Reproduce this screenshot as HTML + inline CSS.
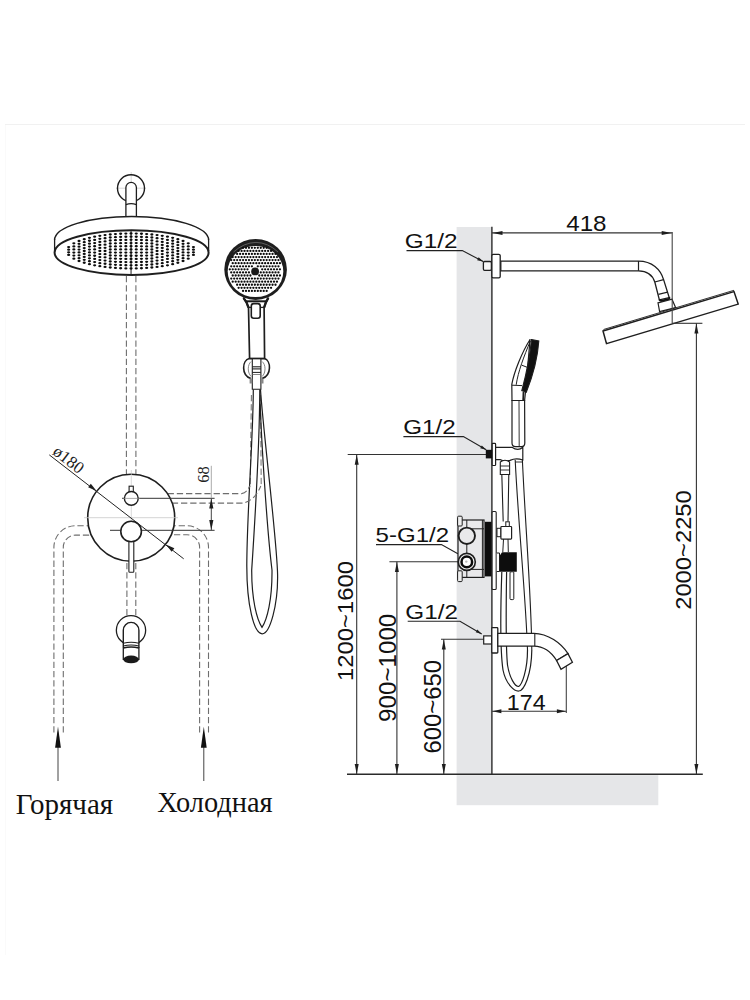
<!DOCTYPE html>
<html><head><meta charset="utf-8"><style>
html,body{margin:0;padding:0;background:#fff;}
body{width:750px;height:1000px;overflow:hidden;font-family:"Liberation Sans",sans-serif;}
svg{display:block;}
</style></head><body>
<svg width="750" height="1000" viewBox="0 0 750 1000">
<line x1="5.00" y1="124.50" x2="745.00" y2="124.50" stroke="#f1f1f1" stroke-width="1.2" />
<line x1="5.50" y1="125.00" x2="5.50" y2="955.00" stroke="#fafafa" stroke-width="1" />
<line x1="131.20" y1="172.00" x2="131.20" y2="215.00" stroke="#c8c8c8" stroke-width="0.7" />
<line x1="116.00" y1="188.20" x2="146.00" y2="188.20" stroke="#c8c8c8" stroke-width="0.7" />
<circle cx="131" cy="188.2" r="13.5" stroke="#1e1e1e" stroke-width="1.4" fill="none"/>
<path d="M125.9,217 L125.9,187.6 A5.25,5.25 0 0 1 136.4,187.6 L136.4,217" stroke="#1e1e1e" stroke-width="1.3" fill="#fff" />
<path d="M125.9,204.6 Q131.15,202.6 136.4,204.6" stroke="#1e1e1e" stroke-width="1.2" fill="none" />
<path d="M54.6,240 A77,23.5 0 0 1 208.6,240" stroke="#1e1e1e" stroke-width="1.5" fill="#fff" />
<line x1="54.60" y1="239.50" x2="54.60" y2="253.00" stroke="#1e1e1e" stroke-width="1.3" />
<line x1="208.60" y1="239.50" x2="208.60" y2="251.00" stroke="#1e1e1e" stroke-width="1.3" />
<ellipse cx="131.6" cy="252.6" rx="77" ry="22.3" stroke="#1e1e1e" stroke-width="2" fill="#fff"/>
<ellipse cx="68.65" cy="247.08" rx="1.6" ry="1.15" fill="#0c0c0c"/>
<ellipse cx="68.65" cy="249.69" rx="1.6" ry="1.15" fill="#0c0c0c"/>
<ellipse cx="68.65" cy="252.31" rx="1.6" ry="1.15" fill="#0c0c0c"/>
<ellipse cx="68.65" cy="254.92" rx="1.6" ry="1.15" fill="#0c0c0c"/>
<ellipse cx="73.85" cy="243.36" rx="1.6" ry="1.15" fill="#0c0c0c"/>
<ellipse cx="73.85" cy="246.42" rx="1.6" ry="1.15" fill="#0c0c0c"/>
<ellipse cx="73.85" cy="249.47" rx="1.6" ry="1.15" fill="#0c0c0c"/>
<ellipse cx="73.85" cy="252.53" rx="1.6" ry="1.15" fill="#0c0c0c"/>
<ellipse cx="73.85" cy="255.58" rx="1.6" ry="1.15" fill="#0c0c0c"/>
<ellipse cx="73.85" cy="258.64" rx="1.6" ry="1.15" fill="#0c0c0c"/>
<ellipse cx="79.05" cy="241.00" rx="1.6" ry="1.15" fill="#0c0c0c"/>
<ellipse cx="79.05" cy="243.86" rx="1.6" ry="1.15" fill="#0c0c0c"/>
<ellipse cx="79.05" cy="246.71" rx="1.6" ry="1.15" fill="#0c0c0c"/>
<ellipse cx="79.05" cy="249.57" rx="1.6" ry="1.15" fill="#0c0c0c"/>
<ellipse cx="79.05" cy="252.43" rx="1.6" ry="1.15" fill="#0c0c0c"/>
<ellipse cx="79.05" cy="255.29" rx="1.6" ry="1.15" fill="#0c0c0c"/>
<ellipse cx="79.05" cy="258.14" rx="1.6" ry="1.15" fill="#0c0c0c"/>
<ellipse cx="79.05" cy="261.00" rx="1.6" ry="1.15" fill="#0c0c0c"/>
<ellipse cx="84.25" cy="239.24" rx="1.6" ry="1.15" fill="#0c0c0c"/>
<ellipse cx="84.25" cy="242.18" rx="1.6" ry="1.15" fill="#0c0c0c"/>
<ellipse cx="84.25" cy="245.12" rx="1.6" ry="1.15" fill="#0c0c0c"/>
<ellipse cx="84.25" cy="248.06" rx="1.6" ry="1.15" fill="#0c0c0c"/>
<ellipse cx="84.25" cy="251.00" rx="1.6" ry="1.15" fill="#0c0c0c"/>
<ellipse cx="84.25" cy="253.94" rx="1.6" ry="1.15" fill="#0c0c0c"/>
<ellipse cx="84.25" cy="256.88" rx="1.6" ry="1.15" fill="#0c0c0c"/>
<ellipse cx="84.25" cy="259.82" rx="1.6" ry="1.15" fill="#0c0c0c"/>
<ellipse cx="84.25" cy="262.76" rx="1.6" ry="1.15" fill="#0c0c0c"/>
<ellipse cx="89.45" cy="237.84" rx="1.6" ry="1.15" fill="#0c0c0c"/>
<ellipse cx="89.45" cy="240.76" rx="1.6" ry="1.15" fill="#0c0c0c"/>
<ellipse cx="89.45" cy="243.69" rx="1.6" ry="1.15" fill="#0c0c0c"/>
<ellipse cx="89.45" cy="246.61" rx="1.6" ry="1.15" fill="#0c0c0c"/>
<ellipse cx="89.45" cy="249.54" rx="1.6" ry="1.15" fill="#0c0c0c"/>
<ellipse cx="89.45" cy="252.46" rx="1.6" ry="1.15" fill="#0c0c0c"/>
<ellipse cx="89.45" cy="255.39" rx="1.6" ry="1.15" fill="#0c0c0c"/>
<ellipse cx="89.45" cy="258.31" rx="1.6" ry="1.15" fill="#0c0c0c"/>
<ellipse cx="89.45" cy="261.24" rx="1.6" ry="1.15" fill="#0c0c0c"/>
<ellipse cx="89.45" cy="264.16" rx="1.6" ry="1.15" fill="#0c0c0c"/>
<ellipse cx="94.65" cy="236.71" rx="1.6" ry="1.15" fill="#0c0c0c"/>
<ellipse cx="94.65" cy="239.89" rx="1.6" ry="1.15" fill="#0c0c0c"/>
<ellipse cx="94.65" cy="243.06" rx="1.6" ry="1.15" fill="#0c0c0c"/>
<ellipse cx="94.65" cy="246.24" rx="1.6" ry="1.15" fill="#0c0c0c"/>
<ellipse cx="94.65" cy="249.41" rx="1.6" ry="1.15" fill="#0c0c0c"/>
<ellipse cx="94.65" cy="252.59" rx="1.6" ry="1.15" fill="#0c0c0c"/>
<ellipse cx="94.65" cy="255.76" rx="1.6" ry="1.15" fill="#0c0c0c"/>
<ellipse cx="94.65" cy="258.94" rx="1.6" ry="1.15" fill="#0c0c0c"/>
<ellipse cx="94.65" cy="262.11" rx="1.6" ry="1.15" fill="#0c0c0c"/>
<ellipse cx="94.65" cy="265.29" rx="1.6" ry="1.15" fill="#0c0c0c"/>
<ellipse cx="99.85" cy="235.80" rx="1.6" ry="1.15" fill="#0c0c0c"/>
<ellipse cx="99.85" cy="238.84" rx="1.6" ry="1.15" fill="#0c0c0c"/>
<ellipse cx="99.85" cy="241.88" rx="1.6" ry="1.15" fill="#0c0c0c"/>
<ellipse cx="99.85" cy="244.92" rx="1.6" ry="1.15" fill="#0c0c0c"/>
<ellipse cx="99.85" cy="247.96" rx="1.6" ry="1.15" fill="#0c0c0c"/>
<ellipse cx="99.85" cy="251.00" rx="1.6" ry="1.15" fill="#0c0c0c"/>
<ellipse cx="99.85" cy="254.04" rx="1.6" ry="1.15" fill="#0c0c0c"/>
<ellipse cx="99.85" cy="257.08" rx="1.6" ry="1.15" fill="#0c0c0c"/>
<ellipse cx="99.85" cy="260.12" rx="1.6" ry="1.15" fill="#0c0c0c"/>
<ellipse cx="99.85" cy="263.16" rx="1.6" ry="1.15" fill="#0c0c0c"/>
<ellipse cx="99.85" cy="266.20" rx="1.6" ry="1.15" fill="#0c0c0c"/>
<ellipse cx="105.05" cy="235.06" rx="1.6" ry="1.15" fill="#0c0c0c"/>
<ellipse cx="105.05" cy="238.25" rx="1.6" ry="1.15" fill="#0c0c0c"/>
<ellipse cx="105.05" cy="241.44" rx="1.6" ry="1.15" fill="#0c0c0c"/>
<ellipse cx="105.05" cy="244.63" rx="1.6" ry="1.15" fill="#0c0c0c"/>
<ellipse cx="105.05" cy="247.81" rx="1.6" ry="1.15" fill="#0c0c0c"/>
<ellipse cx="105.05" cy="251.00" rx="1.6" ry="1.15" fill="#0c0c0c"/>
<ellipse cx="105.05" cy="254.19" rx="1.6" ry="1.15" fill="#0c0c0c"/>
<ellipse cx="105.05" cy="257.37" rx="1.6" ry="1.15" fill="#0c0c0c"/>
<ellipse cx="105.05" cy="260.56" rx="1.6" ry="1.15" fill="#0c0c0c"/>
<ellipse cx="105.05" cy="263.75" rx="1.6" ry="1.15" fill="#0c0c0c"/>
<ellipse cx="105.05" cy="266.94" rx="1.6" ry="1.15" fill="#0c0c0c"/>
<ellipse cx="110.25" cy="234.48" rx="1.6" ry="1.15" fill="#0c0c0c"/>
<ellipse cx="110.25" cy="237.49" rx="1.6" ry="1.15" fill="#0c0c0c"/>
<ellipse cx="110.25" cy="240.49" rx="1.6" ry="1.15" fill="#0c0c0c"/>
<ellipse cx="110.25" cy="243.49" rx="1.6" ry="1.15" fill="#0c0c0c"/>
<ellipse cx="110.25" cy="246.50" rx="1.6" ry="1.15" fill="#0c0c0c"/>
<ellipse cx="110.25" cy="249.50" rx="1.6" ry="1.15" fill="#0c0c0c"/>
<ellipse cx="110.25" cy="252.50" rx="1.6" ry="1.15" fill="#0c0c0c"/>
<ellipse cx="110.25" cy="255.50" rx="1.6" ry="1.15" fill="#0c0c0c"/>
<ellipse cx="110.25" cy="258.51" rx="1.6" ry="1.15" fill="#0c0c0c"/>
<ellipse cx="110.25" cy="261.51" rx="1.6" ry="1.15" fill="#0c0c0c"/>
<ellipse cx="110.25" cy="264.51" rx="1.6" ry="1.15" fill="#0c0c0c"/>
<ellipse cx="110.25" cy="267.52" rx="1.6" ry="1.15" fill="#0c0c0c"/>
<ellipse cx="115.45" cy="234.05" rx="1.6" ry="1.15" fill="#0c0c0c"/>
<ellipse cx="115.45" cy="237.13" rx="1.6" ry="1.15" fill="#0c0c0c"/>
<ellipse cx="115.45" cy="240.21" rx="1.6" ry="1.15" fill="#0c0c0c"/>
<ellipse cx="115.45" cy="243.29" rx="1.6" ry="1.15" fill="#0c0c0c"/>
<ellipse cx="115.45" cy="246.38" rx="1.6" ry="1.15" fill="#0c0c0c"/>
<ellipse cx="115.45" cy="249.46" rx="1.6" ry="1.15" fill="#0c0c0c"/>
<ellipse cx="115.45" cy="252.54" rx="1.6" ry="1.15" fill="#0c0c0c"/>
<ellipse cx="115.45" cy="255.62" rx="1.6" ry="1.15" fill="#0c0c0c"/>
<ellipse cx="115.45" cy="258.71" rx="1.6" ry="1.15" fill="#0c0c0c"/>
<ellipse cx="115.45" cy="261.79" rx="1.6" ry="1.15" fill="#0c0c0c"/>
<ellipse cx="115.45" cy="264.87" rx="1.6" ry="1.15" fill="#0c0c0c"/>
<ellipse cx="115.45" cy="267.95" rx="1.6" ry="1.15" fill="#0c0c0c"/>
<ellipse cx="120.65" cy="233.74" rx="1.6" ry="1.15" fill="#0c0c0c"/>
<ellipse cx="120.65" cy="236.88" rx="1.6" ry="1.15" fill="#0c0c0c"/>
<ellipse cx="120.65" cy="240.02" rx="1.6" ry="1.15" fill="#0c0c0c"/>
<ellipse cx="120.65" cy="243.16" rx="1.6" ry="1.15" fill="#0c0c0c"/>
<ellipse cx="120.65" cy="246.29" rx="1.6" ry="1.15" fill="#0c0c0c"/>
<ellipse cx="120.65" cy="249.43" rx="1.6" ry="1.15" fill="#0c0c0c"/>
<ellipse cx="120.65" cy="252.57" rx="1.6" ry="1.15" fill="#0c0c0c"/>
<ellipse cx="120.65" cy="255.71" rx="1.6" ry="1.15" fill="#0c0c0c"/>
<ellipse cx="120.65" cy="258.84" rx="1.6" ry="1.15" fill="#0c0c0c"/>
<ellipse cx="120.65" cy="261.98" rx="1.6" ry="1.15" fill="#0c0c0c"/>
<ellipse cx="120.65" cy="265.12" rx="1.6" ry="1.15" fill="#0c0c0c"/>
<ellipse cx="120.65" cy="268.26" rx="1.6" ry="1.15" fill="#0c0c0c"/>
<ellipse cx="125.85" cy="233.56" rx="1.6" ry="1.15" fill="#0c0c0c"/>
<ellipse cx="125.85" cy="236.73" rx="1.6" ry="1.15" fill="#0c0c0c"/>
<ellipse cx="125.85" cy="239.90" rx="1.6" ry="1.15" fill="#0c0c0c"/>
<ellipse cx="125.85" cy="243.07" rx="1.6" ry="1.15" fill="#0c0c0c"/>
<ellipse cx="125.85" cy="246.24" rx="1.6" ry="1.15" fill="#0c0c0c"/>
<ellipse cx="125.85" cy="249.41" rx="1.6" ry="1.15" fill="#0c0c0c"/>
<ellipse cx="125.85" cy="252.59" rx="1.6" ry="1.15" fill="#0c0c0c"/>
<ellipse cx="125.85" cy="255.76" rx="1.6" ry="1.15" fill="#0c0c0c"/>
<ellipse cx="125.85" cy="258.93" rx="1.6" ry="1.15" fill="#0c0c0c"/>
<ellipse cx="125.85" cy="262.10" rx="1.6" ry="1.15" fill="#0c0c0c"/>
<ellipse cx="125.85" cy="265.27" rx="1.6" ry="1.15" fill="#0c0c0c"/>
<ellipse cx="125.85" cy="268.44" rx="1.6" ry="1.15" fill="#0c0c0c"/>
<line x1="131.05" y1="230.90" x2="131.05" y2="274.60" stroke="#1e1e1e" stroke-width="1.0" />
<ellipse cx="131.05" cy="233.50" rx="1.6" ry="1.15" fill="#0c0c0c"/>
<ellipse cx="131.05" cy="236.68" rx="1.6" ry="1.15" fill="#0c0c0c"/>
<ellipse cx="131.05" cy="239.86" rx="1.6" ry="1.15" fill="#0c0c0c"/>
<ellipse cx="131.05" cy="243.05" rx="1.6" ry="1.15" fill="#0c0c0c"/>
<ellipse cx="131.05" cy="246.23" rx="1.6" ry="1.15" fill="#0c0c0c"/>
<ellipse cx="131.05" cy="249.41" rx="1.6" ry="1.15" fill="#0c0c0c"/>
<ellipse cx="131.05" cy="252.59" rx="1.6" ry="1.15" fill="#0c0c0c"/>
<ellipse cx="131.05" cy="255.77" rx="1.6" ry="1.15" fill="#0c0c0c"/>
<ellipse cx="131.05" cy="258.95" rx="1.6" ry="1.15" fill="#0c0c0c"/>
<ellipse cx="131.05" cy="262.14" rx="1.6" ry="1.15" fill="#0c0c0c"/>
<ellipse cx="131.05" cy="265.32" rx="1.6" ry="1.15" fill="#0c0c0c"/>
<ellipse cx="131.05" cy="268.50" rx="1.6" ry="1.15" fill="#0c0c0c"/>
<ellipse cx="136.25" cy="233.56" rx="1.6" ry="1.15" fill="#0c0c0c"/>
<ellipse cx="136.25" cy="236.73" rx="1.6" ry="1.15" fill="#0c0c0c"/>
<ellipse cx="136.25" cy="239.90" rx="1.6" ry="1.15" fill="#0c0c0c"/>
<ellipse cx="136.25" cy="243.07" rx="1.6" ry="1.15" fill="#0c0c0c"/>
<ellipse cx="136.25" cy="246.24" rx="1.6" ry="1.15" fill="#0c0c0c"/>
<ellipse cx="136.25" cy="249.41" rx="1.6" ry="1.15" fill="#0c0c0c"/>
<ellipse cx="136.25" cy="252.59" rx="1.6" ry="1.15" fill="#0c0c0c"/>
<ellipse cx="136.25" cy="255.76" rx="1.6" ry="1.15" fill="#0c0c0c"/>
<ellipse cx="136.25" cy="258.93" rx="1.6" ry="1.15" fill="#0c0c0c"/>
<ellipse cx="136.25" cy="262.10" rx="1.6" ry="1.15" fill="#0c0c0c"/>
<ellipse cx="136.25" cy="265.27" rx="1.6" ry="1.15" fill="#0c0c0c"/>
<ellipse cx="136.25" cy="268.44" rx="1.6" ry="1.15" fill="#0c0c0c"/>
<ellipse cx="141.45" cy="233.74" rx="1.6" ry="1.15" fill="#0c0c0c"/>
<ellipse cx="141.45" cy="236.88" rx="1.6" ry="1.15" fill="#0c0c0c"/>
<ellipse cx="141.45" cy="240.02" rx="1.6" ry="1.15" fill="#0c0c0c"/>
<ellipse cx="141.45" cy="243.16" rx="1.6" ry="1.15" fill="#0c0c0c"/>
<ellipse cx="141.45" cy="246.29" rx="1.6" ry="1.15" fill="#0c0c0c"/>
<ellipse cx="141.45" cy="249.43" rx="1.6" ry="1.15" fill="#0c0c0c"/>
<ellipse cx="141.45" cy="252.57" rx="1.6" ry="1.15" fill="#0c0c0c"/>
<ellipse cx="141.45" cy="255.71" rx="1.6" ry="1.15" fill="#0c0c0c"/>
<ellipse cx="141.45" cy="258.84" rx="1.6" ry="1.15" fill="#0c0c0c"/>
<ellipse cx="141.45" cy="261.98" rx="1.6" ry="1.15" fill="#0c0c0c"/>
<ellipse cx="141.45" cy="265.12" rx="1.6" ry="1.15" fill="#0c0c0c"/>
<ellipse cx="141.45" cy="268.26" rx="1.6" ry="1.15" fill="#0c0c0c"/>
<ellipse cx="146.65" cy="234.05" rx="1.6" ry="1.15" fill="#0c0c0c"/>
<ellipse cx="146.65" cy="237.13" rx="1.6" ry="1.15" fill="#0c0c0c"/>
<ellipse cx="146.65" cy="240.21" rx="1.6" ry="1.15" fill="#0c0c0c"/>
<ellipse cx="146.65" cy="243.29" rx="1.6" ry="1.15" fill="#0c0c0c"/>
<ellipse cx="146.65" cy="246.38" rx="1.6" ry="1.15" fill="#0c0c0c"/>
<ellipse cx="146.65" cy="249.46" rx="1.6" ry="1.15" fill="#0c0c0c"/>
<ellipse cx="146.65" cy="252.54" rx="1.6" ry="1.15" fill="#0c0c0c"/>
<ellipse cx="146.65" cy="255.62" rx="1.6" ry="1.15" fill="#0c0c0c"/>
<ellipse cx="146.65" cy="258.71" rx="1.6" ry="1.15" fill="#0c0c0c"/>
<ellipse cx="146.65" cy="261.79" rx="1.6" ry="1.15" fill="#0c0c0c"/>
<ellipse cx="146.65" cy="264.87" rx="1.6" ry="1.15" fill="#0c0c0c"/>
<ellipse cx="146.65" cy="267.95" rx="1.6" ry="1.15" fill="#0c0c0c"/>
<ellipse cx="151.85" cy="234.48" rx="1.6" ry="1.15" fill="#0c0c0c"/>
<ellipse cx="151.85" cy="237.49" rx="1.6" ry="1.15" fill="#0c0c0c"/>
<ellipse cx="151.85" cy="240.49" rx="1.6" ry="1.15" fill="#0c0c0c"/>
<ellipse cx="151.85" cy="243.49" rx="1.6" ry="1.15" fill="#0c0c0c"/>
<ellipse cx="151.85" cy="246.50" rx="1.6" ry="1.15" fill="#0c0c0c"/>
<ellipse cx="151.85" cy="249.50" rx="1.6" ry="1.15" fill="#0c0c0c"/>
<ellipse cx="151.85" cy="252.50" rx="1.6" ry="1.15" fill="#0c0c0c"/>
<ellipse cx="151.85" cy="255.50" rx="1.6" ry="1.15" fill="#0c0c0c"/>
<ellipse cx="151.85" cy="258.51" rx="1.6" ry="1.15" fill="#0c0c0c"/>
<ellipse cx="151.85" cy="261.51" rx="1.6" ry="1.15" fill="#0c0c0c"/>
<ellipse cx="151.85" cy="264.51" rx="1.6" ry="1.15" fill="#0c0c0c"/>
<ellipse cx="151.85" cy="267.52" rx="1.6" ry="1.15" fill="#0c0c0c"/>
<ellipse cx="157.05" cy="235.06" rx="1.6" ry="1.15" fill="#0c0c0c"/>
<ellipse cx="157.05" cy="238.25" rx="1.6" ry="1.15" fill="#0c0c0c"/>
<ellipse cx="157.05" cy="241.44" rx="1.6" ry="1.15" fill="#0c0c0c"/>
<ellipse cx="157.05" cy="244.63" rx="1.6" ry="1.15" fill="#0c0c0c"/>
<ellipse cx="157.05" cy="247.81" rx="1.6" ry="1.15" fill="#0c0c0c"/>
<ellipse cx="157.05" cy="251.00" rx="1.6" ry="1.15" fill="#0c0c0c"/>
<ellipse cx="157.05" cy="254.19" rx="1.6" ry="1.15" fill="#0c0c0c"/>
<ellipse cx="157.05" cy="257.37" rx="1.6" ry="1.15" fill="#0c0c0c"/>
<ellipse cx="157.05" cy="260.56" rx="1.6" ry="1.15" fill="#0c0c0c"/>
<ellipse cx="157.05" cy="263.75" rx="1.6" ry="1.15" fill="#0c0c0c"/>
<ellipse cx="157.05" cy="266.94" rx="1.6" ry="1.15" fill="#0c0c0c"/>
<ellipse cx="162.25" cy="235.80" rx="1.6" ry="1.15" fill="#0c0c0c"/>
<ellipse cx="162.25" cy="238.84" rx="1.6" ry="1.15" fill="#0c0c0c"/>
<ellipse cx="162.25" cy="241.88" rx="1.6" ry="1.15" fill="#0c0c0c"/>
<ellipse cx="162.25" cy="244.92" rx="1.6" ry="1.15" fill="#0c0c0c"/>
<ellipse cx="162.25" cy="247.96" rx="1.6" ry="1.15" fill="#0c0c0c"/>
<ellipse cx="162.25" cy="251.00" rx="1.6" ry="1.15" fill="#0c0c0c"/>
<ellipse cx="162.25" cy="254.04" rx="1.6" ry="1.15" fill="#0c0c0c"/>
<ellipse cx="162.25" cy="257.08" rx="1.6" ry="1.15" fill="#0c0c0c"/>
<ellipse cx="162.25" cy="260.12" rx="1.6" ry="1.15" fill="#0c0c0c"/>
<ellipse cx="162.25" cy="263.16" rx="1.6" ry="1.15" fill="#0c0c0c"/>
<ellipse cx="162.25" cy="266.20" rx="1.6" ry="1.15" fill="#0c0c0c"/>
<ellipse cx="167.45" cy="236.71" rx="1.6" ry="1.15" fill="#0c0c0c"/>
<ellipse cx="167.45" cy="239.89" rx="1.6" ry="1.15" fill="#0c0c0c"/>
<ellipse cx="167.45" cy="243.06" rx="1.6" ry="1.15" fill="#0c0c0c"/>
<ellipse cx="167.45" cy="246.24" rx="1.6" ry="1.15" fill="#0c0c0c"/>
<ellipse cx="167.45" cy="249.41" rx="1.6" ry="1.15" fill="#0c0c0c"/>
<ellipse cx="167.45" cy="252.59" rx="1.6" ry="1.15" fill="#0c0c0c"/>
<ellipse cx="167.45" cy="255.76" rx="1.6" ry="1.15" fill="#0c0c0c"/>
<ellipse cx="167.45" cy="258.94" rx="1.6" ry="1.15" fill="#0c0c0c"/>
<ellipse cx="167.45" cy="262.11" rx="1.6" ry="1.15" fill="#0c0c0c"/>
<ellipse cx="167.45" cy="265.29" rx="1.6" ry="1.15" fill="#0c0c0c"/>
<ellipse cx="172.65" cy="237.84" rx="1.6" ry="1.15" fill="#0c0c0c"/>
<ellipse cx="172.65" cy="240.76" rx="1.6" ry="1.15" fill="#0c0c0c"/>
<ellipse cx="172.65" cy="243.69" rx="1.6" ry="1.15" fill="#0c0c0c"/>
<ellipse cx="172.65" cy="246.61" rx="1.6" ry="1.15" fill="#0c0c0c"/>
<ellipse cx="172.65" cy="249.54" rx="1.6" ry="1.15" fill="#0c0c0c"/>
<ellipse cx="172.65" cy="252.46" rx="1.6" ry="1.15" fill="#0c0c0c"/>
<ellipse cx="172.65" cy="255.39" rx="1.6" ry="1.15" fill="#0c0c0c"/>
<ellipse cx="172.65" cy="258.31" rx="1.6" ry="1.15" fill="#0c0c0c"/>
<ellipse cx="172.65" cy="261.24" rx="1.6" ry="1.15" fill="#0c0c0c"/>
<ellipse cx="172.65" cy="264.16" rx="1.6" ry="1.15" fill="#0c0c0c"/>
<ellipse cx="177.85" cy="239.24" rx="1.6" ry="1.15" fill="#0c0c0c"/>
<ellipse cx="177.85" cy="242.18" rx="1.6" ry="1.15" fill="#0c0c0c"/>
<ellipse cx="177.85" cy="245.12" rx="1.6" ry="1.15" fill="#0c0c0c"/>
<ellipse cx="177.85" cy="248.06" rx="1.6" ry="1.15" fill="#0c0c0c"/>
<ellipse cx="177.85" cy="251.00" rx="1.6" ry="1.15" fill="#0c0c0c"/>
<ellipse cx="177.85" cy="253.94" rx="1.6" ry="1.15" fill="#0c0c0c"/>
<ellipse cx="177.85" cy="256.88" rx="1.6" ry="1.15" fill="#0c0c0c"/>
<ellipse cx="177.85" cy="259.82" rx="1.6" ry="1.15" fill="#0c0c0c"/>
<ellipse cx="177.85" cy="262.76" rx="1.6" ry="1.15" fill="#0c0c0c"/>
<ellipse cx="183.05" cy="241.00" rx="1.6" ry="1.15" fill="#0c0c0c"/>
<ellipse cx="183.05" cy="243.86" rx="1.6" ry="1.15" fill="#0c0c0c"/>
<ellipse cx="183.05" cy="246.71" rx="1.6" ry="1.15" fill="#0c0c0c"/>
<ellipse cx="183.05" cy="249.57" rx="1.6" ry="1.15" fill="#0c0c0c"/>
<ellipse cx="183.05" cy="252.43" rx="1.6" ry="1.15" fill="#0c0c0c"/>
<ellipse cx="183.05" cy="255.29" rx="1.6" ry="1.15" fill="#0c0c0c"/>
<ellipse cx="183.05" cy="258.14" rx="1.6" ry="1.15" fill="#0c0c0c"/>
<ellipse cx="183.05" cy="261.00" rx="1.6" ry="1.15" fill="#0c0c0c"/>
<ellipse cx="188.25" cy="243.36" rx="1.6" ry="1.15" fill="#0c0c0c"/>
<ellipse cx="188.25" cy="246.42" rx="1.6" ry="1.15" fill="#0c0c0c"/>
<ellipse cx="188.25" cy="249.47" rx="1.6" ry="1.15" fill="#0c0c0c"/>
<ellipse cx="188.25" cy="252.53" rx="1.6" ry="1.15" fill="#0c0c0c"/>
<ellipse cx="188.25" cy="255.58" rx="1.6" ry="1.15" fill="#0c0c0c"/>
<ellipse cx="188.25" cy="258.64" rx="1.6" ry="1.15" fill="#0c0c0c"/>
<ellipse cx="193.45" cy="247.08" rx="1.6" ry="1.15" fill="#0c0c0c"/>
<ellipse cx="193.45" cy="249.69" rx="1.6" ry="1.15" fill="#0c0c0c"/>
<ellipse cx="193.45" cy="252.31" rx="1.6" ry="1.15" fill="#0c0c0c"/>
<ellipse cx="193.45" cy="254.92" rx="1.6" ry="1.15" fill="#0c0c0c"/>
<line x1="126.40" y1="276.00" x2="126.40" y2="474.50" stroke="#6e6e6e" stroke-width="1.1" stroke-dasharray="6.3 2.9"/>
<line x1="135.90" y1="276.00" x2="135.90" y2="474.50" stroke="#6e6e6e" stroke-width="1.1" stroke-dasharray="6.3 2.9"/>
<path d="M243.2,297.5 Q246.8,302 248.5,307.6 L249.6,358.5 L264.6,358.5 L264.1,307.6 Q265.8,302 268.6,297.5" stroke="#1e1e1e" stroke-width="1.7" fill="#fff" />
<path d="M243.6,298 Q247,302 248.5,307.6 M268.2,298 Q265.6,302 264.1,307.6" stroke="#1e1e1e" stroke-width="2.3" fill="none" />
<path d="M245.6,301.3 L266.4,301.3" stroke="#1a1a1a" stroke-width="2.0" fill="none" />
<path d="M248.2,307.4 L264.3,307.4" stroke="#222" stroke-width="1.3" fill="none" />
<ellipse cx="255.6" cy="269.4" rx="31.3" ry="30.5" fill="#1e1e1e"/>
<path d="M233.5,252 Q244,242.6 256,242.4 Q268,242.6 278,252" stroke="#777" stroke-width="0.7" fill="none" />
<ellipse cx="255.5" cy="271.5" rx="27.8" ry="25.6" fill="#fff"/>
<circle cx="243.05" cy="247.80" r="1.15" fill="#0c0c0c"/>
<circle cx="246.00" cy="247.80" r="1.15" fill="#0c0c0c"/>
<circle cx="248.95" cy="247.80" r="1.15" fill="#0c0c0c"/>
<circle cx="251.90" cy="247.80" r="1.15" fill="#0c0c0c"/>
<circle cx="254.85" cy="247.80" r="1.15" fill="#0c0c0c"/>
<circle cx="257.80" cy="247.80" r="1.15" fill="#0c0c0c"/>
<circle cx="260.75" cy="247.80" r="1.15" fill="#0c0c0c"/>
<circle cx="263.70" cy="247.80" r="1.15" fill="#0c0c0c"/>
<circle cx="266.65" cy="247.80" r="1.15" fill="#0c0c0c"/>
<circle cx="238.62" cy="250.88" r="1.15" fill="#0c0c0c"/>
<circle cx="241.57" cy="250.88" r="1.15" fill="#0c0c0c"/>
<circle cx="244.52" cy="250.88" r="1.15" fill="#0c0c0c"/>
<circle cx="247.47" cy="250.88" r="1.15" fill="#0c0c0c"/>
<circle cx="250.42" cy="250.88" r="1.15" fill="#0c0c0c"/>
<circle cx="253.37" cy="250.88" r="1.15" fill="#0c0c0c"/>
<circle cx="256.32" cy="250.88" r="1.15" fill="#0c0c0c"/>
<circle cx="259.27" cy="250.88" r="1.15" fill="#0c0c0c"/>
<circle cx="262.22" cy="250.88" r="1.15" fill="#0c0c0c"/>
<circle cx="265.17" cy="250.88" r="1.15" fill="#0c0c0c"/>
<circle cx="268.12" cy="250.88" r="1.15" fill="#0c0c0c"/>
<circle cx="271.07" cy="250.88" r="1.15" fill="#0c0c0c"/>
<circle cx="237.15" cy="253.96" r="1.15" fill="#0c0c0c"/>
<circle cx="240.10" cy="253.96" r="1.15" fill="#0c0c0c"/>
<circle cx="243.05" cy="253.96" r="1.15" fill="#0c0c0c"/>
<circle cx="246.00" cy="253.96" r="1.15" fill="#0c0c0c"/>
<circle cx="248.95" cy="253.96" r="1.15" fill="#0c0c0c"/>
<circle cx="251.90" cy="253.96" r="1.15" fill="#0c0c0c"/>
<circle cx="254.85" cy="253.96" r="1.15" fill="#0c0c0c"/>
<circle cx="257.80" cy="253.96" r="1.15" fill="#0c0c0c"/>
<circle cx="260.75" cy="253.96" r="1.15" fill="#0c0c0c"/>
<circle cx="263.70" cy="253.96" r="1.15" fill="#0c0c0c"/>
<circle cx="266.65" cy="253.96" r="1.15" fill="#0c0c0c"/>
<circle cx="269.60" cy="253.96" r="1.15" fill="#0c0c0c"/>
<circle cx="272.55" cy="253.96" r="1.15" fill="#0c0c0c"/>
<circle cx="275.50" cy="253.96" r="1.15" fill="#0c0c0c"/>
<circle cx="232.72" cy="257.04" r="1.15" fill="#0c0c0c"/>
<circle cx="235.67" cy="257.04" r="1.15" fill="#0c0c0c"/>
<circle cx="238.62" cy="257.04" r="1.15" fill="#0c0c0c"/>
<circle cx="241.57" cy="257.04" r="1.15" fill="#0c0c0c"/>
<circle cx="244.52" cy="257.04" r="1.15" fill="#0c0c0c"/>
<circle cx="247.47" cy="257.04" r="1.15" fill="#0c0c0c"/>
<circle cx="250.42" cy="257.04" r="1.15" fill="#0c0c0c"/>
<circle cx="253.37" cy="257.04" r="1.15" fill="#0c0c0c"/>
<circle cx="256.32" cy="257.04" r="1.15" fill="#0c0c0c"/>
<circle cx="259.27" cy="257.04" r="1.15" fill="#0c0c0c"/>
<circle cx="262.22" cy="257.04" r="1.15" fill="#0c0c0c"/>
<circle cx="265.17" cy="257.04" r="1.15" fill="#0c0c0c"/>
<circle cx="268.12" cy="257.04" r="1.15" fill="#0c0c0c"/>
<circle cx="271.07" cy="257.04" r="1.15" fill="#0c0c0c"/>
<circle cx="274.02" cy="257.04" r="1.15" fill="#0c0c0c"/>
<circle cx="276.97" cy="257.04" r="1.15" fill="#0c0c0c"/>
<circle cx="231.25" cy="260.12" r="1.15" fill="#0c0c0c"/>
<circle cx="234.20" cy="260.12" r="1.15" fill="#0c0c0c"/>
<circle cx="237.15" cy="260.12" r="1.15" fill="#0c0c0c"/>
<circle cx="240.10" cy="260.12" r="1.15" fill="#0c0c0c"/>
<circle cx="243.05" cy="260.12" r="1.15" fill="#0c0c0c"/>
<circle cx="246.00" cy="260.12" r="1.15" fill="#0c0c0c"/>
<circle cx="248.95" cy="260.12" r="1.15" fill="#0c0c0c"/>
<circle cx="251.90" cy="260.12" r="1.15" fill="#0c0c0c"/>
<circle cx="254.85" cy="260.12" r="1.15" fill="#0c0c0c"/>
<circle cx="257.80" cy="260.12" r="1.15" fill="#0c0c0c"/>
<circle cx="260.75" cy="260.12" r="1.15" fill="#0c0c0c"/>
<circle cx="263.70" cy="260.12" r="1.15" fill="#0c0c0c"/>
<circle cx="266.65" cy="260.12" r="1.15" fill="#0c0c0c"/>
<circle cx="269.60" cy="260.12" r="1.15" fill="#0c0c0c"/>
<circle cx="272.55" cy="260.12" r="1.15" fill="#0c0c0c"/>
<circle cx="275.50" cy="260.12" r="1.15" fill="#0c0c0c"/>
<circle cx="278.45" cy="260.12" r="1.15" fill="#0c0c0c"/>
<circle cx="232.72" cy="263.20" r="1.15" fill="#0c0c0c"/>
<circle cx="235.67" cy="263.20" r="1.15" fill="#0c0c0c"/>
<circle cx="238.62" cy="263.20" r="1.15" fill="#0c0c0c"/>
<circle cx="241.57" cy="263.20" r="1.15" fill="#0c0c0c"/>
<circle cx="244.52" cy="263.20" r="1.15" fill="#0c0c0c"/>
<circle cx="247.47" cy="263.20" r="1.15" fill="#0c0c0c"/>
<circle cx="250.42" cy="263.20" r="1.15" fill="#0c0c0c"/>
<circle cx="253.37" cy="263.20" r="1.15" fill="#0c0c0c"/>
<circle cx="256.32" cy="263.20" r="1.15" fill="#0c0c0c"/>
<circle cx="259.27" cy="263.20" r="1.15" fill="#0c0c0c"/>
<circle cx="262.22" cy="263.20" r="1.15" fill="#0c0c0c"/>
<circle cx="265.17" cy="263.20" r="1.15" fill="#0c0c0c"/>
<circle cx="268.12" cy="263.20" r="1.15" fill="#0c0c0c"/>
<circle cx="271.07" cy="263.20" r="1.15" fill="#0c0c0c"/>
<circle cx="274.02" cy="263.20" r="1.15" fill="#0c0c0c"/>
<circle cx="276.97" cy="263.20" r="1.15" fill="#0c0c0c"/>
<circle cx="279.92" cy="263.20" r="1.15" fill="#0c0c0c"/>
<circle cx="231.25" cy="266.28" r="1.15" fill="#0c0c0c"/>
<circle cx="234.20" cy="266.28" r="1.15" fill="#0c0c0c"/>
<circle cx="237.15" cy="266.28" r="1.15" fill="#0c0c0c"/>
<circle cx="240.10" cy="266.28" r="1.15" fill="#0c0c0c"/>
<circle cx="243.05" cy="266.28" r="1.15" fill="#0c0c0c"/>
<circle cx="246.00" cy="266.28" r="1.15" fill="#0c0c0c"/>
<circle cx="248.95" cy="266.28" r="1.15" fill="#0c0c0c"/>
<circle cx="251.90" cy="266.28" r="1.15" fill="#0c0c0c"/>
<circle cx="257.80" cy="266.28" r="1.15" fill="#0c0c0c"/>
<circle cx="260.75" cy="266.28" r="1.15" fill="#0c0c0c"/>
<circle cx="263.70" cy="266.28" r="1.15" fill="#0c0c0c"/>
<circle cx="266.65" cy="266.28" r="1.15" fill="#0c0c0c"/>
<circle cx="269.60" cy="266.28" r="1.15" fill="#0c0c0c"/>
<circle cx="272.55" cy="266.28" r="1.15" fill="#0c0c0c"/>
<circle cx="275.50" cy="266.28" r="1.15" fill="#0c0c0c"/>
<circle cx="278.45" cy="266.28" r="1.15" fill="#0c0c0c"/>
<circle cx="229.78" cy="269.36" r="1.15" fill="#0c0c0c"/>
<circle cx="232.72" cy="269.36" r="1.15" fill="#0c0c0c"/>
<circle cx="235.67" cy="269.36" r="1.15" fill="#0c0c0c"/>
<circle cx="238.62" cy="269.36" r="1.15" fill="#0c0c0c"/>
<circle cx="241.57" cy="269.36" r="1.15" fill="#0c0c0c"/>
<circle cx="244.52" cy="269.36" r="1.15" fill="#0c0c0c"/>
<circle cx="247.47" cy="269.36" r="1.15" fill="#0c0c0c"/>
<circle cx="262.22" cy="269.36" r="1.15" fill="#0c0c0c"/>
<circle cx="265.17" cy="269.36" r="1.15" fill="#0c0c0c"/>
<circle cx="268.12" cy="269.36" r="1.15" fill="#0c0c0c"/>
<circle cx="271.07" cy="269.36" r="1.15" fill="#0c0c0c"/>
<circle cx="274.02" cy="269.36" r="1.15" fill="#0c0c0c"/>
<circle cx="276.97" cy="269.36" r="1.15" fill="#0c0c0c"/>
<circle cx="279.92" cy="269.36" r="1.15" fill="#0c0c0c"/>
<circle cx="231.25" cy="272.44" r="1.15" fill="#0c0c0c"/>
<circle cx="234.20" cy="272.44" r="1.15" fill="#0c0c0c"/>
<circle cx="237.15" cy="272.44" r="1.15" fill="#0c0c0c"/>
<circle cx="240.10" cy="272.44" r="1.15" fill="#0c0c0c"/>
<circle cx="243.05" cy="272.44" r="1.15" fill="#0c0c0c"/>
<circle cx="246.00" cy="272.44" r="1.15" fill="#0c0c0c"/>
<circle cx="248.95" cy="272.44" r="1.15" fill="#0c0c0c"/>
<circle cx="260.75" cy="272.44" r="1.15" fill="#0c0c0c"/>
<circle cx="263.70" cy="272.44" r="1.15" fill="#0c0c0c"/>
<circle cx="266.65" cy="272.44" r="1.15" fill="#0c0c0c"/>
<circle cx="269.60" cy="272.44" r="1.15" fill="#0c0c0c"/>
<circle cx="272.55" cy="272.44" r="1.15" fill="#0c0c0c"/>
<circle cx="275.50" cy="272.44" r="1.15" fill="#0c0c0c"/>
<circle cx="278.45" cy="272.44" r="1.15" fill="#0c0c0c"/>
<circle cx="232.72" cy="275.52" r="1.15" fill="#0c0c0c"/>
<circle cx="235.67" cy="275.52" r="1.15" fill="#0c0c0c"/>
<circle cx="238.62" cy="275.52" r="1.15" fill="#0c0c0c"/>
<circle cx="241.57" cy="275.52" r="1.15" fill="#0c0c0c"/>
<circle cx="244.52" cy="275.52" r="1.15" fill="#0c0c0c"/>
<circle cx="247.47" cy="275.52" r="1.15" fill="#0c0c0c"/>
<circle cx="250.42" cy="275.52" r="1.15" fill="#0c0c0c"/>
<circle cx="259.27" cy="275.52" r="1.15" fill="#0c0c0c"/>
<circle cx="262.22" cy="275.52" r="1.15" fill="#0c0c0c"/>
<circle cx="265.17" cy="275.52" r="1.15" fill="#0c0c0c"/>
<circle cx="268.12" cy="275.52" r="1.15" fill="#0c0c0c"/>
<circle cx="271.07" cy="275.52" r="1.15" fill="#0c0c0c"/>
<circle cx="274.02" cy="275.52" r="1.15" fill="#0c0c0c"/>
<circle cx="276.97" cy="275.52" r="1.15" fill="#0c0c0c"/>
<circle cx="279.92" cy="275.52" r="1.15" fill="#0c0c0c"/>
<circle cx="231.25" cy="278.60" r="1.15" fill="#0c0c0c"/>
<circle cx="234.20" cy="278.60" r="1.15" fill="#0c0c0c"/>
<circle cx="237.15" cy="278.60" r="1.15" fill="#0c0c0c"/>
<circle cx="240.10" cy="278.60" r="1.15" fill="#0c0c0c"/>
<circle cx="243.05" cy="278.60" r="1.15" fill="#0c0c0c"/>
<circle cx="246.00" cy="278.60" r="1.15" fill="#0c0c0c"/>
<circle cx="248.95" cy="278.60" r="1.15" fill="#0c0c0c"/>
<circle cx="251.90" cy="278.60" r="1.15" fill="#0c0c0c"/>
<circle cx="254.85" cy="278.60" r="1.15" fill="#0c0c0c"/>
<circle cx="257.80" cy="278.60" r="1.15" fill="#0c0c0c"/>
<circle cx="260.75" cy="278.60" r="1.15" fill="#0c0c0c"/>
<circle cx="263.70" cy="278.60" r="1.15" fill="#0c0c0c"/>
<circle cx="266.65" cy="278.60" r="1.15" fill="#0c0c0c"/>
<circle cx="269.60" cy="278.60" r="1.15" fill="#0c0c0c"/>
<circle cx="272.55" cy="278.60" r="1.15" fill="#0c0c0c"/>
<circle cx="275.50" cy="278.60" r="1.15" fill="#0c0c0c"/>
<circle cx="278.45" cy="278.60" r="1.15" fill="#0c0c0c"/>
<circle cx="232.72" cy="281.68" r="1.15" fill="#0c0c0c"/>
<circle cx="235.67" cy="281.68" r="1.15" fill="#0c0c0c"/>
<circle cx="238.62" cy="281.68" r="1.15" fill="#0c0c0c"/>
<circle cx="241.57" cy="281.68" r="1.15" fill="#0c0c0c"/>
<circle cx="244.52" cy="281.68" r="1.15" fill="#0c0c0c"/>
<circle cx="247.47" cy="281.68" r="1.15" fill="#0c0c0c"/>
<circle cx="250.42" cy="281.68" r="1.15" fill="#0c0c0c"/>
<circle cx="253.37" cy="281.68" r="1.15" fill="#0c0c0c"/>
<circle cx="256.32" cy="281.68" r="1.15" fill="#0c0c0c"/>
<circle cx="259.27" cy="281.68" r="1.15" fill="#0c0c0c"/>
<circle cx="262.22" cy="281.68" r="1.15" fill="#0c0c0c"/>
<circle cx="265.17" cy="281.68" r="1.15" fill="#0c0c0c"/>
<circle cx="268.12" cy="281.68" r="1.15" fill="#0c0c0c"/>
<circle cx="271.07" cy="281.68" r="1.15" fill="#0c0c0c"/>
<circle cx="274.02" cy="281.68" r="1.15" fill="#0c0c0c"/>
<circle cx="276.97" cy="281.68" r="1.15" fill="#0c0c0c"/>
<circle cx="237.15" cy="284.76" r="1.15" fill="#0c0c0c"/>
<circle cx="240.10" cy="284.76" r="1.15" fill="#0c0c0c"/>
<circle cx="243.05" cy="284.76" r="1.15" fill="#0c0c0c"/>
<circle cx="246.00" cy="284.76" r="1.15" fill="#0c0c0c"/>
<circle cx="248.95" cy="284.76" r="1.15" fill="#0c0c0c"/>
<circle cx="251.90" cy="284.76" r="1.15" fill="#0c0c0c"/>
<circle cx="254.85" cy="284.76" r="1.15" fill="#0c0c0c"/>
<circle cx="257.80" cy="284.76" r="1.15" fill="#0c0c0c"/>
<circle cx="260.75" cy="284.76" r="1.15" fill="#0c0c0c"/>
<circle cx="263.70" cy="284.76" r="1.15" fill="#0c0c0c"/>
<circle cx="266.65" cy="284.76" r="1.15" fill="#0c0c0c"/>
<circle cx="269.60" cy="284.76" r="1.15" fill="#0c0c0c"/>
<circle cx="272.55" cy="284.76" r="1.15" fill="#0c0c0c"/>
<circle cx="275.50" cy="284.76" r="1.15" fill="#0c0c0c"/>
<circle cx="238.62" cy="287.84" r="1.15" fill="#0c0c0c"/>
<circle cx="241.57" cy="287.84" r="1.15" fill="#0c0c0c"/>
<circle cx="244.52" cy="287.84" r="1.15" fill="#0c0c0c"/>
<circle cx="247.47" cy="287.84" r="1.15" fill="#0c0c0c"/>
<circle cx="250.42" cy="287.84" r="1.15" fill="#0c0c0c"/>
<circle cx="253.37" cy="287.84" r="1.15" fill="#0c0c0c"/>
<circle cx="256.32" cy="287.84" r="1.15" fill="#0c0c0c"/>
<circle cx="259.27" cy="287.84" r="1.15" fill="#0c0c0c"/>
<circle cx="262.22" cy="287.84" r="1.15" fill="#0c0c0c"/>
<circle cx="265.17" cy="287.84" r="1.15" fill="#0c0c0c"/>
<circle cx="268.12" cy="287.84" r="1.15" fill="#0c0c0c"/>
<circle cx="271.07" cy="287.84" r="1.15" fill="#0c0c0c"/>
<circle cx="243.05" cy="290.92" r="1.15" fill="#0c0c0c"/>
<circle cx="246.00" cy="290.92" r="1.15" fill="#0c0c0c"/>
<circle cx="248.95" cy="290.92" r="1.15" fill="#0c0c0c"/>
<circle cx="251.90" cy="290.92" r="1.15" fill="#0c0c0c"/>
<circle cx="254.85" cy="290.92" r="1.15" fill="#0c0c0c"/>
<circle cx="257.80" cy="290.92" r="1.15" fill="#0c0c0c"/>
<circle cx="260.75" cy="290.92" r="1.15" fill="#0c0c0c"/>
<circle cx="263.70" cy="290.92" r="1.15" fill="#0c0c0c"/>
<circle cx="266.65" cy="290.92" r="1.15" fill="#0c0c0c"/>
<circle cx="255.1" cy="271.4" r="3.9" fill="#1a1a1a"/>
<rect x="251.3" y="303.6" width="8.9" height="14.6" rx="2.4" stroke="#1e1e1e" stroke-width="1.6" fill="#fff"/>
<path d="M252.3,359 L252.3,389.2 L260.9,389.2 L260.9,359" stroke="#1e1e1e" stroke-width="1.1" fill="#fff" />
<path d="M249.3,358.6 C242,360.5 241,375 250.8,378.6" stroke="#1e1e1e" stroke-width="1.6" fill="none" />
<path d="M264.4,358.6 C271,360.5 272,375 262.2,378.6" stroke="#1e1e1e" stroke-width="1.6" fill="none" />
<path d="M251.2,361.5 C247.3,364.5 247.3,373 251.2,376.5" stroke="#777" stroke-width="0.9" fill="none" />
<path d="M262.1,361.5 C266,364.5 266,373 262.1,376.5" stroke="#777" stroke-width="0.9" fill="none" />
<line x1="252.30" y1="366.80" x2="260.90" y2="366.80" stroke="#1e1e1e" stroke-width="1.1" />
<line x1="252.30" y1="368.90" x2="260.90" y2="368.90" stroke="#1e1e1e" stroke-width="1.1" />
<line x1="252.30" y1="372.40" x2="260.90" y2="372.40" stroke="#1e1e1e" stroke-width="1.0" />
<rect x="249.6" y="378.6" width="2.7" height="4.9" fill="#888"/>
<rect x="260.9" y="378.6" width="2.6" height="4.9" fill="#888"/>
<line x1="252.30" y1="374.50" x2="260.90" y2="374.50" stroke="#666" stroke-width="0.8" />
<line x1="249.40" y1="358.60" x2="264.50" y2="358.60" stroke="#1e1e1e" stroke-width="1.5" />
<path d="M251.4,395 L250.2,486" stroke="#6e6e6e" stroke-width="1.0" fill="none" stroke-dasharray="6.3 2.9" stroke-dashoffset="0"/>
<path d="M260.6,395 L261.2,486" stroke="#6e6e6e" stroke-width="1.0" fill="none" stroke-dasharray="6.3 2.9" stroke-dashoffset="0"/>
<path d="M253.3,389.5 C253.2,440 247,510 246.8,565 C246.7,605 254,634 262.2,633.8 C270,633.6 278,605 277.6,575 C277,540 263,430 260.5,389.5" stroke="#1e1e1e" stroke-width="1.2" fill="none" />
<path d="M259.8,389.5 C259.5,450 255,520 251.7,570 C251.6,600 257,620 262,627.4 C267,620 272.3,600 272,570 C267,530 260.5,430 259.8,389.5" stroke="#1e1e1e" stroke-width="1.2" fill="none" />
<path d="M167.6,493.6 L241.6,493.6 Q246.5,493 249.2,487 L250.2,486" stroke="#6e6e6e" stroke-width="1.1" fill="none" stroke-dasharray="6.3 2.9" stroke-dashoffset="0"/>
<path d="M171.8,503.1 L243.7,503.1 Q255,500 260.8,486" stroke="#6e6e6e" stroke-width="1.1" fill="none" stroke-dasharray="6.3 2.9" stroke-dashoffset="0"/>
<path d="M53.9,732.5 L53.9,547.3 A21.6,21.6 0 0 1 75.5,525.7 L88.4,525.7" stroke="#6e6e6e" stroke-width="1.1" fill="none" stroke-dasharray="6.3 2.9" stroke-dashoffset="0"/>
<path d="M63.3,732.5 L63.3,547.3 A12.2,12.2 0 0 1 75.5,535.1 L91.4,535.1" stroke="#6e6e6e" stroke-width="1.1" fill="none" stroke-dasharray="6.3 2.9" stroke-dashoffset="0"/>
<path d="M208.5,732.5 L208.5,547.3 A21.5,21.5 0 0 0 187,525.8 L174,525.8" stroke="#6e6e6e" stroke-width="1.1" fill="none" stroke-dasharray="6.3 2.9" stroke-dashoffset="0"/>
<path d="M199.6,732.5 L199.6,547.3 A12.6,12.6 0 0 0 187,534.7 L171,534.7" stroke="#6e6e6e" stroke-width="1.1" fill="none" stroke-dasharray="6.3 2.9" stroke-dashoffset="0"/>
<circle cx="131.2" cy="517.7" r="43.5" stroke="#1e1e1e" stroke-width="1.6" fill="#fff"/>
<line x1="84.00" y1="517.70" x2="178.00" y2="517.70" stroke="#c8c8c8" stroke-width="0.8" />
<line x1="131.30" y1="470.00" x2="131.30" y2="560.00" stroke="#c8c8c8" stroke-width="0.7" />
<line x1="122.00" y1="498.30" x2="214.60" y2="498.30" stroke="#333" stroke-width="1.0" />
<line x1="110.00" y1="530.30" x2="214.60" y2="530.30" stroke="#333" stroke-width="1.0" />
<line x1="211.30" y1="465.80" x2="211.30" y2="498.30" stroke="#aaa" stroke-width="1.0" />
<line x1="211.30" y1="498.30" x2="211.30" y2="530.30" stroke="#444" stroke-width="1.0" />
<polygon points="211.30,498.60 213.40,508.60 209.20,508.60" fill="#1e1e1e"/>
<polygon points="211.30,530.10 209.20,520.10 213.40,520.10" fill="#1e1e1e"/>
<text x="209.00" y="474.50" font-family="Liberation Serif" font-size="16.5" fill="#222" text-anchor="middle" transform="rotate(-90 209.00 474.50)" >68</text>
<rect x="129.1" y="486.2" width="4.2" height="6" stroke="#1e1e1e" stroke-width="1.1" fill="#fff"/>
<circle cx="131.3" cy="498.4" r="6.9" stroke="#1e1e1e" stroke-width="1.4" fill="#fff"/>
<line x1="122.50" y1="498.40" x2="140.00" y2="498.40" stroke="#888" stroke-width="0.7" />
<rect x="128.9" y="538" width="4.9" height="34.2" rx="0.8" stroke="#1e1e1e" stroke-width="1.1" fill="#fff"/>
<circle cx="131.1" cy="531.5" r="10.3" stroke="#1e1e1e" stroke-width="1.6" fill="#fff"/>
<line x1="49.30" y1="454.90" x2="183.70" y2="558.80" stroke="#222" stroke-width="1.0" />
<polygon points="96.60,491.00 88.13,487.24 90.83,483.75" fill="#1e1e1e"/>
<polygon points="165.90,544.60 174.37,548.36 171.67,551.85" fill="#1e1e1e"/>
<text x="65.30" y="464.00" font-family="Liberation Serif" font-size="17" fill="#222" text-anchor="middle" transform="rotate(37.7 65.30 464.00)" >ø180</text>
<line x1="126.90" y1="563.00" x2="126.90" y2="615.50" stroke="#6e6e6e" stroke-width="1.1" stroke-dasharray="6.3 2.9"/>
<line x1="135.80" y1="563.00" x2="135.80" y2="615.50" stroke="#6e6e6e" stroke-width="1.1" stroke-dasharray="6.3 2.9"/>
<circle cx="131" cy="630.2" r="14.65" stroke="#1e1e1e" stroke-width="1.3" fill="#fff"/>
<path d="M123.3,648 L123.3,630.2 A7.8,7.8 0 0 1 138.9,630.2 L138.9,648" stroke="#1e1e1e" stroke-width="1.4" fill="#fff" />
<path d="M123.3,643.3 Q131.1,641.3 138.9,643.3" stroke="#1e1e1e" stroke-width="1.1" fill="none" />
<path d="M123.3,646 Q131.1,644 138.9,646" stroke="#1e1e1e" stroke-width="1.1" fill="none" />
<path d="M123.3,648 L123.3,659.4 L138.9,659.4 L138.9,648 Q131.1,646 123.3,648" stroke="#1e1e1e" stroke-width="1.3" fill="#fff" />
<ellipse cx="131.1" cy="659.4" rx="7.8" ry="3.9" fill="#1a1a1a"/>
<line x1="58.00" y1="740.00" x2="58.00" y2="781.00" stroke="#444" stroke-width="1.0" />
<polygon points="58.00,726.70 60.90,747.70 55.10,747.70" fill="#111"/>
<line x1="203.80" y1="740.00" x2="203.80" y2="781.00" stroke="#444" stroke-width="1.0" />
<polygon points="203.80,726.70 206.70,747.70 200.90,747.70" fill="#111"/>
<text x="15.80" y="813.50" font-family="Liberation Serif" font-size="29" fill="#111" text-anchor="start" >Горячая</text>
<text x="157.30" y="811.70" font-family="Liberation Serif" font-size="29" fill="#111" text-anchor="start" textLength="115.3" lengthAdjust="spacingAndGlyphs" >Холодная</text>
<rect x="456.6" y="227" width="35.2" height="547.5" fill="#e5e6e8"/>
<rect x="456.6" y="775.2" width="201.7" height="30" fill="#e5e6e8"/>
<line x1="491.90" y1="226.70" x2="491.90" y2="774.30" stroke="#2a2a2a" stroke-width="1.4" />
<line x1="347.00" y1="774.30" x2="702.80" y2="774.30" stroke="#2a2a2a" stroke-width="1.4" />
<line x1="492.00" y1="232.90" x2="672.20" y2="232.90" stroke="#333" stroke-width="1.1" />
<polygon points="492.50,232.90 502.50,230.90 502.50,234.90" fill="#1e1e1e"/>
<polygon points="671.70,232.90 661.70,234.90 661.70,230.90" fill="#1e1e1e"/>
<line x1="672.20" y1="232.00" x2="672.20" y2="323.30" stroke="#444" stroke-width="1.1" />
<text x="586.40" y="230.80" font-family="Liberation Sans" font-size="22.3" fill="#111" text-anchor="middle" textLength="40.3" lengthAdjust="spacingAndGlyphs" >418</text>
<rect x="483.4" y="261.5" width="8" height="8.8" rx="1.2" stroke="#1e1e1e" stroke-width="1.3" fill="#f6f6f6"/>
<rect x="491.9" y="254.3" width="8.3" height="23.5" rx="1.4" stroke="#1e1e1e" stroke-width="1.3" fill="#fff"/>
<path d="M500.8,261.1 L638.5,261.1 C652,261.2 660.5,269 663.6,279.6 L669.2,297.6 L659.4,299.9 L654.8,282 C652.5,275 647,270.9 638.5,270.8 L500.8,270.8 Z" stroke="#1e1e1e" stroke-width="1.3" fill="#fff" />
<line x1="638.50" y1="261.10" x2="638.50" y2="270.80" stroke="#1e1e1e" stroke-width="1.2" />
<line x1="654.80" y1="282.00" x2="663.60" y2="279.60" stroke="#1e1e1e" stroke-width="1.1" />
<line x1="658.40" y1="294.40" x2="667.60" y2="292.10" stroke="#1e1e1e" stroke-width="1.2" />
<path d="M659.4,299.4 Q660,301 661.5,300.9 L668.8,299 Q669.8,298.5 669.2,297.2" stroke="#111" stroke-width="2.0" fill="none" />
<path d="M658,302.8 L672,299.2 L675.6,307.6 L659.6,311.6 Z" stroke="#1e1e1e" stroke-width="1.2" fill="#fff" />
<polygon points="603,331 734,291.6 738.2,304.1 606.5,343.6" stroke="#1e1e1e" stroke-width="1.5" fill="#fff"/>
<line x1="603.50" y1="329.50" x2="734.00" y2="290.30" stroke="#1e1e1e" stroke-width="0.9" />
<line x1="672.20" y1="299.00" x2="672.20" y2="323.30" stroke="#444" stroke-width="1.1" />
<line x1="672.50" y1="323.30" x2="702.40" y2="323.30" stroke="#333" stroke-width="1.1" />
<line x1="696.40" y1="323.30" x2="696.40" y2="774.30" stroke="#333" stroke-width="1.1" />
<polygon points="696.40,323.60 698.40,333.60 694.40,333.60" fill="#1e1e1e"/>
<polygon points="696.40,774.00 694.40,764.00 698.40,764.00" fill="#1e1e1e"/>
<text x="691.20" y="550.00" font-family="Liberation Sans" font-size="22.6" fill="#111" text-anchor="middle" transform="rotate(-90 691.20 550.00)" textLength="119.6" lengthAdjust="spacingAndGlyphs" >2000~2250</text>
<line x1="347.70" y1="454.50" x2="486.00" y2="454.50" stroke="#333" stroke-width="1.1" />
<line x1="356.70" y1="454.50" x2="356.70" y2="774.30" stroke="#333" stroke-width="1.1" />
<polygon points="356.70,454.80 358.70,464.80 354.70,464.80" fill="#1e1e1e"/>
<polygon points="356.70,774.00 354.70,764.00 358.70,764.00" fill="#1e1e1e"/>
<text x="353.20" y="621.00" font-family="Liberation Sans" font-size="22.2" fill="#111" text-anchor="middle" transform="rotate(-90 353.20 621.00)" textLength="120" lengthAdjust="spacingAndGlyphs" >1200~1600</text>
<line x1="389.40" y1="561.70" x2="463.70" y2="561.70" stroke="#333" stroke-width="1.1" />
<line x1="396.90" y1="561.70" x2="396.90" y2="774.30" stroke="#333" stroke-width="1.1" />
<polygon points="396.90,562.00 398.90,572.00 394.90,572.00" fill="#1e1e1e"/>
<polygon points="396.90,774.00 394.90,764.00 398.90,764.00" fill="#1e1e1e"/>
<text x="395.60" y="667.80" font-family="Liberation Sans" font-size="23" fill="#111" text-anchor="middle" transform="rotate(-90 395.60 667.80)" textLength="108.2" lengthAdjust="spacingAndGlyphs" >900~1000</text>
<line x1="441.00" y1="639.30" x2="483.70" y2="639.30" stroke="#333" stroke-width="1.1" />
<line x1="443.80" y1="639.30" x2="443.80" y2="774.30" stroke="#333" stroke-width="1.1" />
<polygon points="443.80,639.60 445.80,649.60 441.80,649.60" fill="#1e1e1e"/>
<polygon points="443.80,774.00 441.80,764.00 445.80,764.00" fill="#1e1e1e"/>
<text x="440.90" y="706.80" font-family="Liberation Sans" font-size="23" fill="#111" text-anchor="middle" transform="rotate(-90 440.90 706.80)" textLength="93.6" lengthAdjust="spacingAndGlyphs" >600~650</text>
<text x="404.80" y="247.90" font-family="Liberation Sans" font-size="21" fill="#111" text-anchor="start" textLength="52.8" lengthAdjust="spacingAndGlyphs" >G1/2</text>
<path d="M406.5,250.6 L462.3,250.6 L483.2,261.5" stroke="#222" stroke-width="1.1" fill="none" />
<polygon points="483.20,261.50 477.14,260.14 478.62,257.31" fill="#1e1e1e"/>
<text x="403.20" y="434.40" font-family="Liberation Sans" font-size="21" fill="#111" text-anchor="start" textLength="52.4" lengthAdjust="spacingAndGlyphs" >G1/2</text>
<path d="M403.4,436.6 L463.4,436.6 L486.2,449.8" stroke="#222" stroke-width="1.1" fill="none" />
<polygon points="486.20,449.80 480.21,448.18 481.81,445.41" fill="#1e1e1e"/>
<text x="375.60" y="541.90" font-family="Liberation Sans" font-size="21" fill="#111" text-anchor="start" textLength="73.5" lengthAdjust="spacingAndGlyphs" >5-G1/2</text>
<path d="M376.0,544.6 L441.4,544.6 L463.7,557.1" stroke="#222" stroke-width="1.1" fill="none" />
<polygon points="463.70,557.10 457.68,555.56 459.25,552.77" fill="#1e1e1e"/>
<text x="405.30" y="619.30" font-family="Liberation Sans" font-size="21" fill="#111" text-anchor="start" textLength="52.6" lengthAdjust="spacingAndGlyphs" >G1/2</text>
<path d="M407.7,621.3 L460.0,621.3 L481.7,634.0" stroke="#222" stroke-width="1.1" fill="none" />
<polygon points="481.70,634.00 475.71,632.35 477.33,629.59" fill="#1e1e1e"/>
<line x1="492.00" y1="711.20" x2="566.30" y2="711.20" stroke="#333" stroke-width="1.1" />
<polygon points="492.40,711.20 501.40,709.20 501.40,713.20" fill="#1e1e1e"/>
<polygon points="565.90,711.20 556.90,713.20 556.90,709.20" fill="#1e1e1e"/>
<line x1="566.30" y1="664.00" x2="566.30" y2="713.00" stroke="#444" stroke-width="1.1" />
<text x="526.20" y="709.80" font-family="Liberation Sans" font-size="22" fill="#111" text-anchor="middle" textLength="38.8" lengthAdjust="spacingAndGlyphs" >174</text>
<path d="M501.8,474 L503.2,521.5 M508.8,474 L508,521.5" stroke="#1e1e1e" stroke-width="1.1" fill="none" />
<path d="M515.2,460 C518,520 526,600 527.5,650 M522.4,460 C525,520 531.5,600 531.8,650" stroke="#1e1e1e" stroke-width="1.1" fill="none" />
<path d="M501.8,572 C500.5,610 500,650 503,670 C506,685 515,691.5 518.9,691 C524,690.5 531.5,675 531.8,650" stroke="#1e1e1e" stroke-width="1.2" fill="none" />
<path d="M506.6,572 C506,610 505.5,645 507.5,665 C509.5,678 515,686.5 518.6,686.5 C522,685 527.5,670 527.5,650" stroke="#1e1e1e" stroke-width="1.2" fill="none" />
<path d="M530.2,339.2 C522,352 514,372 511.8,384.4 L512,400.5 L524.6,400.5 L525.5,392 L530,340 Z" stroke="#1e1e1e" stroke-width="1.2" fill="#fff" />
<path d="M531.5,339.6 L538.8,341 C537.5,360 532,378 526.3,392.2 L521.8,390.6 C525.5,377 529.5,360 531.5,339.6 Z" stroke="#1e1e1e" stroke-width="1.1" fill="#111" />
<path d="M530.4,341 C524,356 518,372 516.2,384.8" stroke="#1e1e1e" stroke-width="1.0" fill="none" />
<line x1="521.80" y1="365.20" x2="527.40" y2="367.40" stroke="#1e1e1e" stroke-width="1.0" />
<line x1="512.00" y1="385.20" x2="522.00" y2="385.60" stroke="#1e1e1e" stroke-width="1.0" />
<line x1="523.50" y1="392.00" x2="523.20" y2="400.50" stroke="#1e1e1e" stroke-width="1.8" />
<path d="M512,400.5 L512,443 Q512,446.6 515.5,446.6 L521.5,446.6 Q524.8,446.6 524.8,443 L524.6,400.5 Z" stroke="#1e1e1e" stroke-width="1.2" fill="#fff" />
<line x1="519.00" y1="401.00" x2="519.20" y2="446.00" stroke="#1e1e1e" stroke-width="0.9" />
<rect x="492.2" y="443.4" width="3.4" height="22.1" rx="0.8" stroke="#1e1e1e" stroke-width="1.2" fill="#fff"/>
<rect x="485.8" y="449.8" width="6.4" height="8.6" fill="#111"/>
<path d="M495.6,447.3 L512,447.3 Q518,451.5 522.8,447.3 L522.8,460 Q516,457.5 510,460.4 Q504,462 500,459.6 L495.6,459.6 Z" stroke="#1e1e1e" stroke-width="1.2" fill="#fff" />
<path d="M500.3,474.5 L500.3,462 Q505,458.5 509.6,462 L509.6,474.5 Z" stroke="#1e1e1e" stroke-width="1.1" fill="#fff" />
<line x1="500.30" y1="466.00" x2="509.60" y2="466.00" stroke="#1e1e1e" stroke-width="0.9" />
<line x1="500.30" y1="470.00" x2="509.60" y2="470.00" stroke="#1e1e1e" stroke-width="0.9" />
<line x1="515.20" y1="462.00" x2="522.40" y2="462.00" stroke="#1e1e1e" stroke-width="0.9" />
<rect x="458" y="520" width="26" height="57.4" stroke="#1e1e1e" stroke-width="1.2" fill="#e9e9eb"/>
<rect x="457.6" y="516.2" width="4.6" height="9.8" rx="1" stroke="#1e1e1e" stroke-width="1.0" fill="#eee"/>
<rect x="457.6" y="570.8" width="4.6" height="10.8" rx="1" stroke="#1e1e1e" stroke-width="1.0" fill="#eee"/>
<line x1="466.80" y1="520.00" x2="466.80" y2="577.40" stroke="#222" stroke-width="1.0" />
<line x1="462.00" y1="528.80" x2="484.00" y2="528.80" stroke="#222" stroke-width="1.0" />
<line x1="462.00" y1="569.40" x2="484.00" y2="569.40" stroke="#222" stroke-width="1.0" />
<line x1="482.40" y1="520.00" x2="482.40" y2="577.40" stroke="#222" stroke-width="1.0" />
<circle cx="466.8" cy="535.8" r="8.2" stroke="#1e1e1e" stroke-width="1.9" fill="#e9e9eb"/>
<circle cx="466.8" cy="561.9" r="8.5" stroke="#1e1e1e" stroke-width="1.6" fill="#f2f2f2"/>
<circle cx="466.8" cy="561.9" r="5.3" stroke="#0a0a0a" stroke-width="2.5" fill="#fff"/>
<circle cx="466.3" cy="561.6" r="1.2" fill="#bbb"/>
<rect x="485" y="521.8" width="6.6" height="54.6" fill="#0d0d0d"/>
<rect x="492.1" y="511.5" width="4.1" height="78" rx="1" stroke="#1e1e1e" stroke-width="1.1" fill="#fff"/>
<rect x="497" y="528.3" width="3.9" height="8.4" stroke="#1e1e1e" stroke-width="1.0" fill="#fff"/>
<rect x="500.9" y="526.5" width="10.7" height="12.6" rx="0.8" stroke="#1e1e1e" stroke-width="1.2" fill="#fff"/>
<rect x="505.8" y="521.8" width="3.5" height="4.7" stroke="#1e1e1e" stroke-width="1.0" fill="#fff"/>
<path d="M503.5,539.1 L502.8,552 M508,539.1 L508.3,552" stroke="#1e1e1e" stroke-width="1.0" fill="none" />
<polygon points="499.5,556 502,552.2 516.8,552.2 516.8,571.8 499.5,571.8" fill="#0d0d0d"/>
<path d="M496.8,553 L499.5,553 L499.5,571.5 L496.8,571.5" stroke="#1e1e1e" stroke-width="1.0" fill="#fff" />
<rect x="510" y="571.8" width="3.8" height="27.8" rx="1" stroke="#1e1e1e" stroke-width="1.0" fill="#fff"/>
<rect x="483.7" y="635.9" width="7.9" height="8.1" stroke="#1e1e1e" stroke-width="1.2" fill="#fff"/>
<rect x="491.8" y="627.6" width="6" height="25.4" rx="0.8" stroke="#1e1e1e" stroke-width="1.3" fill="#fff"/>
<path d="M497.8,633.3 L533.9,633.3 C548,633.5 561,643 568,653.6 L556.6,660.5 C551,651.5 543,646.2 533.9,646.1 L497.8,646.1 Z" stroke="#1e1e1e" stroke-width="1.3" fill="#fff" />
<line x1="534.80" y1="633.30" x2="534.80" y2="646.10" stroke="#1e1e1e" stroke-width="1.1" />
<path d="M556.6,660.5 L568,653.6 L572.4,662.2 L561,669.4 Z" stroke="#1e1e1e" stroke-width="1.3" fill="#fff" />
</svg>
</body></html>
